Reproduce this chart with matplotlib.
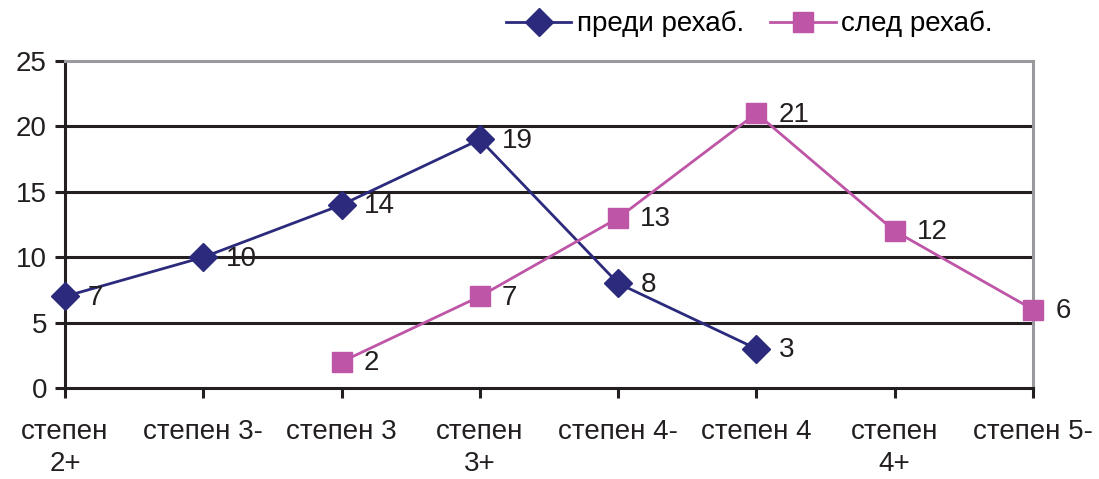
import matplotlib.pyplot as plt

plt.rcParams['font.family'] = ['Liberation Sans', 'DejaVu Sans']

categories = ["степен\n2+", "степен 3-", "степен 3", "степен\n3+",
              "степен 4-", "степен 4", "степен\n4+", "степен 5-"]

# before rehab: categories 0..5, after rehab: categories 2..7
before_x = [0, 1, 2, 3, 4, 5]
before = [7, 10, 14, 19, 8, 3]
after_x = [2, 3, 4, 5, 6, 7]
after = [2, 7, 13, 21, 12, 6]

navy = "#2B2A7C"
pink = "#BE55A6"
ink = "#231F20"
fs = 20

fig = plt.figure(figsize=(10.99, 4.79), dpi=100)
ax = fig.add_axes([65 / 1099, 91 / 479, 968 / 1099, 327 / 479])

ax.set_ylim(0, 25)
ax.set_xlim(0, 7)
for y in [5, 10, 15, 20]:
    ax.axhline(y, color=ink, lw=2.2, zorder=1)

ax.plot(before_x, before, color=navy, lw=2, marker="D", ms=14,
        label="преди рехаб.", clip_on=False, zorder=3)
ax.plot(after_x, after, color=pink, lw=2, marker="s", ms=14.5,
        label="след рехаб.", clip_on=False, zorder=3)

for xs, ys in [(before_x, before), (after_x, after)]:
    for x, y in zip(xs, ys):
        ax.annotate(str(y), (x, y), xytext=(16, -1), textcoords="offset points",
                    va="center", ha="left", fontsize=fs, color=ink)

ax.set_xticks(range(len(categories)))
ax.set_xticklabels(categories, fontsize=fs, color=ink, linespacing=1.3)
ax.set_yticks([0, 5, 10, 15, 20, 25])
ax.tick_params(axis="y", labelsize=fs, labelcolor=ink, length=7, width=2.2,
               color=ink, pad=6)
ax.tick_params(axis="x", length=7, width=2.2, color=ink, pad=15)

for side in ["top", "right"]:
    ax.spines[side].set_color("#9A9A9E")
    ax.spines[side].set_linewidth(2.2)
for side in ["left", "bottom"]:
    ax.spines[side].set_color(ink)
    ax.spines[side].set_linewidth(2.2)

ax.legend(loc="center left", bbox_to_anchor=(441 / 968, 1 + 37 / 327), ncol=2,
          frameon=False, fontsize=fs, handlelength=2.35, handletextpad=0.2,
          columnspacing=0.95, borderpad=0, borderaxespad=0)

fig.savefig("out.png", dpi=100)
